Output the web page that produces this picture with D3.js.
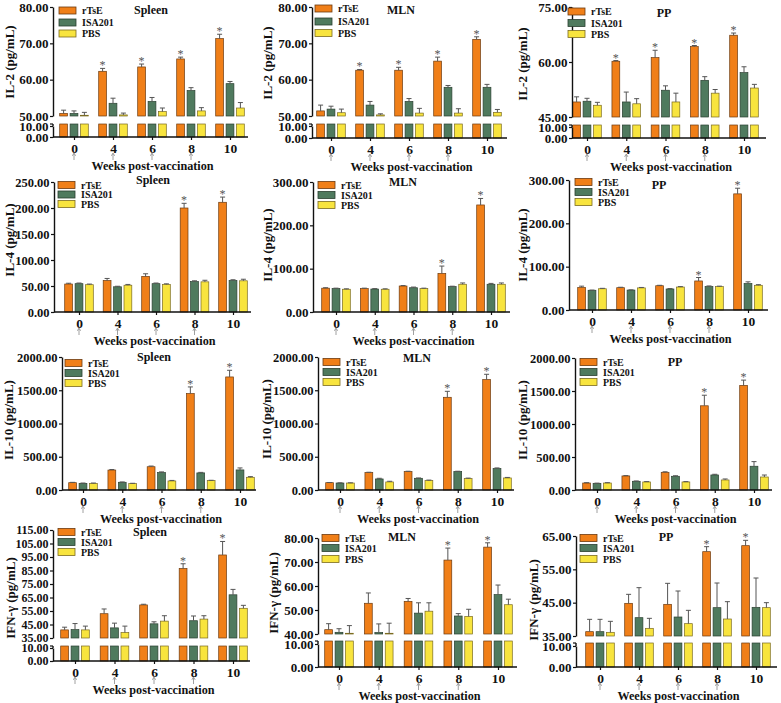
<!DOCTYPE html>
<html><head><meta charset="utf-8">
<script src="https://cdn.jsdelivr.net/npm/d3@7"></script>
<style>
body{margin:0;background:#fff}
svg{display:block}
text{font-family:"Liberation Serif","Times New Roman",serif;font-weight:bold;fill:#111}
</style>
</head><body><svg id="c" width="781" height="703"></svg>
<script>
const weeks = ["0","4","6","8","10"];
const groups = ["rTsE","ISA201","PBS"];
const arrowWeeks = ["0","4","6","8"];
const starsIL2 = ["4","6","8","10"];
const starsLate = ["8","10"];

const il2Spleen = [[50.7,62.3,63.5,65.7,71.3],[50.7,53.5,54.0,57.0,58.9],[50.2,50.3,51.2,51.4,52.2]];
const il2SpleenErr = [[0.9,0.8,0.8,0.5,1.2],[0.7,1.4,1.1,0.8,0.6],[0.8,0.5,1.0,0.9,1.5]];
const il2MLN = [[51.4,62.6,62.6,65.1,71.1],[51.9,53.0,54.0,57.9,57.9],[50.9,50.3,50.8,50.8,51.0]];
const il2MLNErr = [[1.6,0.2,0.8,1.1,0.7],[0.8,1.0,0.8,0.5,0.8],[1.0,0.3,1.3,1.2,0.8]];
const il2PP = [[49.1,60.2,61.2,64.2,67.3],[49.3,49.1,52.3,55.0,57.1],[48.2,48.6,49.1,51.5,52.9]];
const il2PPErr = [[1.4,0.2,2.0,0.3,0.6],[0.8,2.7,1.2,1.0,1.6],[0.8,1.4,2.4,1.0,1.0]];

const il4Spleen = [[53.8,60.5,68.5,200,211],[54.5,48.5,54.5,58.5,60.5],[52.5,51.5,53,58,60]];
const il4SpleenErr = [[1.5,4,5,9,10],[1.2,1,1.2,1.5,1.5],[1.2,1.5,1.2,3,3]];
const il4MLN = [[55,54,60,89,247],[54,53,56,58.5,64],[52.5,52.5,54,64,64]];
const il4MLNErr = [[1,1,1,17,15],[1,1,1.5,1,2],[1,1,1,3,3]];
const il4PP = [[52,51.5,56,67,268],[45.5,46,48.5,54,61],[49,51,53,54,57]];
const il4PPErr = [[3,1,1,8,13],[0.5,0.5,1,1.5,4],[1,1,1,1,1.5]];

const il10Spleen = [[110,300,350,1450,1700],[100,116,262,257,302],[100,96,136,141,191]];
const il10SpleenErr = [[5,8,10,100,100],[5,5,10,8,30],[5,5,8,5,10]];
const il10MLN = [[110,262,277,1394,1660],[105,166,176,277,322],[105,121,141,171,181]];
const il10MLNErr = [[3,5,5,90,80],[3,10,5,5,10],[3,10,8,8,8]];
const il10PP = [[106,213,268,1276,1585],[101,132,208,228,360],[106,122,122,152,197]];
const il10PPErr = [[5,5,8,160,80],[3,5,8,10,70],[5,5,5,15,30]];

const ifnSpleen = [[41,53,59.5,86.5,96.5],[41.2,42.5,45.5,47.8,67],[41,39,47.5,49,57]];
const ifnSpleenErr = [[2,3.5,0.5,3.5,10],[4.5,3.5,1.5,3.5,4],[2.8,4.8,4,2.5,2.2]];
const ifnMLN = [[41.8,52.8,53.6,70.8,76.2],[40.7,40.6,48.7,47.5,56.4],[40.3,40.3,49.5,47.3,52.2]];
const ifnMLNErr = [[2.5,4.3,1.2,5,1.8],[1.5,3.6,4.3,1,4],[3.2,4.2,3.5,3,2.3]];
const ifnPP = [[36.3,44.8,44.5,60.3,62.1],[36.3,40.5,40.7,43.5,43.6],[36.1,37.3,38.7,40.1,43.5]];
const ifnPPErr = [[3.7,2.7,6.3,1.5,1.6],[3.7,9,7.8,7.4,8.8],[3.3,3,4,5.2,1.5]];

const ticksIL2a = [50,60,70,80];
const ticksIL2b = [45,60,75];
const ticksLow = [0,10];
const ticksIL4a = [0,50,100,150,200,250];
const ticksIL4b = [0,100,200,300];
const ticksIL10 = [0,500,1000,1500,2000];
const ticksIFNa = [35,45,55,65,75,85,95,105,115];
const ticksIFNb = [40,50,60,70,80];
const ticksIFNc = [35,45,55,65];

const colors = {rTsE:"#F07F18", ISA201:"#4F7A5E", PBS:"#F8E43E"};
const strokes = {rTsE:"#6b3a10", ISA201:"#2a3f30", PBS:"#7a6a20"};

const panels = [
 {title:"Spleen",ylab:"IL-2 (pg/mL)",mean:il2Spleen,err:il2SpleenErr,ticks:ticksIL2a,stars:starsIL2,
  ax:53,first:74,last:230,xEnd:248,up:[50,80],upR:[116,7],low:[137,126],lowTop:124,
  tx:151,ty:10,lx:59,ly:[10.5,22.5,33.5],ylx:9,yly:62,fs:13},
 {title:"MLN",ylab:"IL-2 (pg/mL)",mean:il2MLN,err:il2MLNErr,ticks:ticksIL2a,stars:starsIL2,
  ax:312,first:331,last:487,xEnd:507,up:[50,80],upR:[116,7],low:[138,126],lowTop:124,
  tx:401,ty:10,lx:315,ly:[8.5,21.5,33],ylx:267,yly:63,fs:13},
 {title:"PP",ylab:"IL-2 (pg/mL)",mean:il2PP,err:il2PPErr,ticks:ticksIL2b,stars:starsIL2,
  ax:572,first:587,last:744,xEnd:766,up:[45,75],upR:[117,7],low:[138,127],lowTop:125,
  tx:664,ty:13,lx:568,ly:[11.5,23,34],ylx:522,yly:64,fs:13},
 {title:"Spleen",ylab:"IL-4 (pg/mL)",mean:il4Spleen,err:il4SpleenErr,ticks:ticksIL4a,stars:starsLate,
  ax:54,first:79,last:233,xEnd:251,up:[0,250],upR:[312,182],
  tx:153,ty:180,lx:58,ly:[185,194.5,204],ylx:9,yly:240,fs:12.5},
 {title:"MLN",ylab:"IL-4 (pg/mL)",mean:il4MLN,err:il4MLNErr,ticks:ticksIL4b,stars:starsLate,
  ax:313,first:336,last:491,xEnd:510,up:[0,300],upR:[312,182],
  tx:403,ty:182,lx:318,ly:[185,195,205],ylx:267,yly:245,fs:13},
 {title:"PP",ylab:"IL-4 (pg/mL)",mean:il4PP,err:il4PPErr,ticks:ticksIL4b,stars:starsLate,
  ax:569,first:592,last:748,xEnd:768,up:[0,300],upR:[310,180],
  tx:659,ty:185,lx:575,ly:[182,192,202],ylx:522,yly:245,fs:13},
 {title:"Spleen",ylab:"IL-10 (pg/mL)",mean:il10Spleen,err:il10SpleenErr,ticks:ticksIL10,stars:starsLate,
  ax:62,first:83,last:240,xEnd:256,up:[0,2000],upR:[490,357],
  tx:154,ty:357,lx:65,ly:[363,373,383],ylx:8,yly:420,fs:12.5},
 {title:"MLN",ylab:"IL-10 (pg/mL)",mean:il10MLN,err:il10MLNErr,ticks:ticksIL10,stars:starsLate,
  ax:318,first:340,last:497,xEnd:514,up:[0,2000],upR:[490,357],
  tx:417,ty:358,lx:323,ly:[362,372,382],ylx:266,yly:419,fs:12.5},
 {title:"PP",ylab:"IL-10 (pg/mL)",mean:il10PP,err:il10PPErr,ticks:ticksIL10,stars:starsLate,
  ax:575,first:597,last:754,xEnd:772,up:[0,2000],upR:[490,358],
  tx:675,ty:362,lx:580,ly:[362,372,382],ylx:522,yly:420,fs:12.5},
 {title:"Spleen",ylab:"IFN-\u03b3  (pg/mL)",mean:ifnSpleen,err:ifnSpleenErr,ticks:ticksIFNa,stars:starsLate,
  ax:53,first:75,last:233,xEnd:250,up:[35,115],upR:[638,530],low:[661,648],lowTop:646,
  tx:150,ty:532,lx:58,ly:[532,542,552],ylx:10,yly:598,fs:12},
 {title:"MLN",ylab:"IFN-\u03b3  (pg/mL)",mean:ifnMLN,err:ifnMLNErr,ticks:ticksIFNb,stars:starsLate,
  ax:318,first:339,last:498,xEnd:517,up:[40,80],upR:[634,538],low:[667,644],lowTop:641,
  tx:402,ty:537,lx:322,ly:[538,548,559],ylx:273,yly:593,fs:13},
 {title:"PP",ylab:"IFN-\u03b3  (pg/mL)",mean:ifnPP,err:ifnPPErr,ticks:ticksIFNc,stars:starsLate,
  ax:576,first:600,last:756,xEnd:777,up:[35,65],upR:[636,536],low:[667,646],lowTop:643,
  tx:666,ty:537,lx:580,ly:[538,548,559],ylx:533,yly:600,fs:13}
];

const svg = d3.select("#c");
const fmt = d3.format(".2f");

function styleAxis(sel, fs){
  sel.select(".domain").attr("stroke","#111").attr("stroke-width",1.4);
  sel.selectAll(".tick line").attr("stroke","#111").attr("stroke-width",1.2);
  sel.selectAll(".tick text").attr("font-size",fs).attr("font-family","Liberation Serif, serif")
     .attr("font-weight","bold").attr("fill","#111");
}

panels.forEach(p => {
  const g = svg.append("g");
  const x = d3.scalePoint().domain(weeks).range([p.first, p.last]);
  const sub = d3.scalePoint().domain(groups).range([-10.4, 10.4]);
  const yU = d3.scaleLinear().domain(p.up).range(p.upR);
  const broken = !!p.low;
  const yL = broken ? d3.scaleLinear().domain([0,10]).range(p.low) : null;
  const base = broken ? p.low[0] : p.upR[0];
  const bw = 7.8;

  groups.forEach((grp, gi) => {
    weeks.forEach((wk, wi) => {
      const v = p.mean[gi][wi], e = p.err[gi][wi];
      const cx = x(wk) + sub(grp);
      const top = yU(v);
      const upBase = yU(p.up[0]);
      if (broken) {
        g.append("rect").attr("x",cx-bw/2).attr("y",top).attr("width",bw).attr("height",Math.max(0,upBase-top))
          .attr("fill",colors[grp]).attr("stroke",strokes[grp]).attr("stroke-width",0.7);
        g.append("rect").attr("x",cx-bw/2).attr("y",p.lowTop).attr("width",bw).attr("height",yL(0)-p.lowTop)
          .attr("fill",colors[grp]).attr("stroke",strokes[grp]).attr("stroke-width",0.7);
      } else {
        g.append("rect").attr("x",cx-bw/2).attr("y",top).attr("width",bw).attr("height",yU(0)-top)
          .attr("fill",colors[grp]).attr("stroke",strokes[grp]).attr("stroke-width",0.7);
      }
      const et = yU(v+e);
      g.append("line").attr("x1",cx).attr("x2",cx).attr("y1",top).attr("y2",et).attr("stroke","#555").attr("stroke-width",1);
      g.append("line").attr("x1",cx-2.5).attr("x2",cx+2.5).attr("y1",et).attr("y2",et).attr("stroke","#555").attr("stroke-width",1);
      if (gi===0 && p.stars.includes(wk)) {
        g.append("text").attr("x",cx).attr("y",et+1).attr("text-anchor","middle")
          .attr("font-size",12).style("fill","#555").style("font-weight","normal").text("*");
      }
    });
  });

  const ayU = g.append("g").attr("transform",`translate(${p.ax},0)`)
    .call(d3.axisLeft(yU).tickValues(p.ticks).tickFormat(fmt).tickSize(3).tickPadding(1.5).tickSizeOuter(0));
  styleAxis(ayU, p.fs);
  if (broken) {
    const ayL = g.append("g").attr("transform",`translate(${p.ax},0)`)
      .call(d3.axisLeft(yL).tickValues(ticksLow).tickFormat(fmt).tickSize(3).tickPadding(1.5).tickSizeOuter(0));
    styleAxis(ayL, p.fs);
    g.append("line").attr("x1",p.ax).attr("x2",p.ax).attr("y1",p.lowTop).attr("y2",yL(10))
      .attr("stroke","#111").attr("stroke-width",1.4);
    g.append("line").attr("x1",p.ax-3).attr("x2",p.ax).attr("y1",p.lowTop).attr("y2",p.lowTop)
      .attr("stroke","#111").attr("stroke-width",1.2);
  }

  const axX = g.append("g").attr("transform",`translate(0,${base})`)
    .call(d3.axisBottom(x).tickSize(3).tickSizeOuter(0).tickPadding(3));
  axX.select(".domain").remove();
  axX.selectAll(".tick line").attr("stroke","#111").attr("stroke-width",1.2);
  axX.selectAll(".tick text").attr("font-size",13.5).attr("font-family","Liberation Serif, serif")
     .attr("font-weight","bold").attr("fill","#111");
  g.append("line").attr("x1",p.ax).attr("x2",p.xEnd).attr("y1",base).attr("y2",base)
    .attr("stroke","#111").attr("stroke-width",1.4);

  arrowWeeks.forEach(wk => {
    const cx = x(wk);
    g.append("line").attr("x1",cx).attr("x2",cx).attr("y1",base+17).attr("y2",base+23)
      .attr("stroke","#888").attr("stroke-width",0.8);
    g.append("path").attr("d",`M${cx-1.6},${base+18.8}L${cx},${base+16}L${cx+1.6},${base+18.8}`)
      .attr("fill","none").attr("stroke","#888").attr("stroke-width",0.8);
  });

  g.append("text").attr("x",(p.ax+p.xEnd)/2+2).attr("y",base+33).attr("text-anchor","middle")
    .attr("font-size",12.2).text("Weeks post-vaccination");

  g.append("text").attr("transform",`translate(${p.ylx},${p.yly}) rotate(-90)`)
    .attr("text-anchor","middle").attr("dominant-baseline","central").attr("font-size",13).text(p.ylab);

  g.append("text").attr("x",p.tx).attr("y",p.ty).attr("text-anchor","middle")
    .attr("dominant-baseline","central").attr("font-size",12).text(p.title);

  groups.forEach((grp, gi) => {
    g.append("rect").attr("x",p.lx).attr("y",p.ly[gi]-3.5).attr("width",17).attr("height",7)
      .attr("fill",colors[grp]).attr("stroke",strokes[grp]).attr("stroke-width",0.8);
    g.append("text").attr("x",p.lx+23).attr("y",p.ly[gi]).attr("dominant-baseline","central")
      .attr("font-size",10).text(grp);
  });
});
</script>
</body></html>
